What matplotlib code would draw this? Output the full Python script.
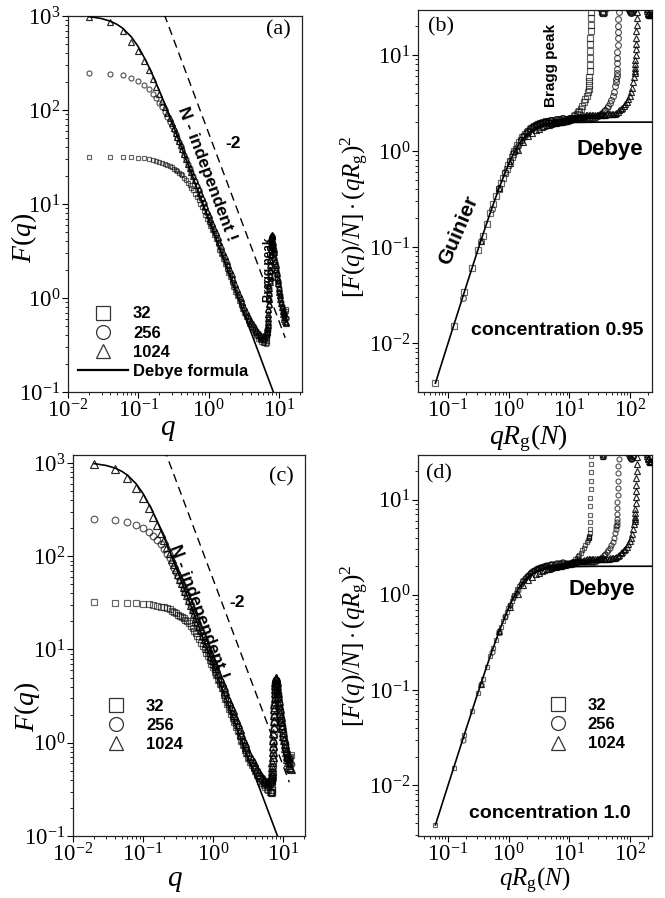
import numpy as np
import matplotlib
matplotlib.use("Agg")
import matplotlib.pyplot as plt
from matplotlib.lines import Line2D
from matplotlib.ticker import LogLocator

plt.rcParams['font.family'] = ['Liberation Serif', 'DejaVu Serif']
plt.rcParams['mathtext.fontset'] = 'custom'
plt.rcParams['mathtext.rm'] = 'Liberation Serif'
plt.rcParams['mathtext.it'] = 'Liberation Serif:italic'
plt.rcParams['mathtext.bf'] = 'Liberation Serif:bold'

# ---------------- data ----------------
CHAIN_LENGTHS = [32, 256, 1024]
LEGEND_LABELS = ['32', '256', '1024']
RG_VALUES = [3.09, 8.74, 17.5]          # R_g(N) used for the rescaled panels

# q grid shared by both concentrations (low/intermediate q)
Q_A = [0.02, 0.04, 0.06, 0.08, 0.10, 0.12, 0.14, 0.16, 0.18, 0.20, 0.22, 0.24, 0.26, 0.28, 0.30,
       0.32, 0.34, 0.36, 0.38, 0.40, 0.42, 0.45, 0.48, 0.51, 0.54, 0.57, 0.60,
       0.64, 0.68, 0.72, 0.76, 0.80, 0.85, 0.90, 0.95, 1.0,
       1.06, 1.12, 1.19, 1.26, 1.34, 1.42, 1.5, 1.6, 1.7, 1.8, 1.9, 2.0,
       2.12, 2.25, 2.4, 2.55, 2.7, 2.85, 3.0,
       3.2, 3.4, 3.6, 3.8, 4.0, 4.25, 4.5, 4.75, 5.0]
F32_A = [32.0, 31.8, 31.6, 31.4, 31.0, 30.6, 30.1, 29.5, 28.9, 28.3, 27.6, 26.9, 26.1, 25.3, 24.5,
         23.7, 22.9, 22.3, 21.6, 20.9, 20.1, 19.0, 17.9, 16.9, 15.9, 14.9, 14.0,
         12.9, 11.8, 10.9, 10.05, 9.28, 8.43, 7.67, 7.01, 6.42,
         5.80, 5.27, 4.73, 4.27, 3.82, 3.25, 2.92, 2.58, 2.29, 2.05, 1.85, 1.67,
         1.49, 1.325, 1.17, 1.045, 0.935, 0.845, 0.768,
         0.69, 0.626, 0.574, 0.532, 0.494, 0.454, 0.42, 0.392, 0.368]
F256_A = [250, 244, 233, 218, 201, 183, 165.5, 149, 134, 119.5, 106.5, 94.8, 84.6, 75.4, 67.6,
          60.9, 55.0, 49.8, 45.3, 41.4, 38.0, 33.5, 29.8, 26.7, 24.0, 21.7, 19.7,
          17.4, 15.6, 13.96, 12.6, 11.4, 10.19, 9.1, 8.1, 7.3,
          6.5, 5.84, 5.18, 4.63, 4.1, 3.65, 3.27, 2.87, 2.55, 2.27, 2.04, 1.84,
          1.64, 1.46, 1.285, 1.14, 1.02, 0.915, 0.828,
          0.737, 0.667, 0.61, 0.565, 0.525, 0.482, 0.447, 0.417, 0.394]
F1024_A = [975, 865, 690, 535, 420, 332, 265, 214, 176.5, 147.5, 125, 107.4, 93.3, 81.8, 72.4,
           64.1, 57.2, 51.5, 46.4, 42.1, 38.5, 33.8, 30.0, 26.9, 24.1, 21.8, 19.8,
           17.9, 16.0, 14.4, 13.0, 11.8, 10.5, 9.42, 8.5, 7.72,
           7.0, 6.3, 5.6, 5.0, 4.43, 3.95, 3.55, 3.12, 2.77, 2.47, 2.23, 2.0,
           1.785, 1.585, 1.4, 1.24, 1.11, 0.995, 0.9,
           0.8, 0.724, 0.663, 0.615, 0.57, 0.525, 0.487, 0.455, 0.43]

# q grid of the high-q (Bragg peak) region
Q_B = [5.3, 5.6, 5.9, 6.2, 6.5,
       6.7, 6.8, 6.85, 6.9, 6.95, 7.0, 7.05, 7.1, 7.15, 7.2, 7.25, 7.3, 7.35, 7.4, 7.45, 7.5,
       7.55, 7.6, 7.65, 7.7, 7.75, 7.8, 7.85, 7.9, 7.95, 8.0, 8.1, 8.2, 8.3, 8.4, 8.5,
       8.65, 8.8, 8.95, 9.1, 9.25, 9.4, 9.55, 9.7, 9.9, 10.1, 10.3, 10.5, 10.75, 11.0,
       11.25, 11.5, 11.75, 12.0, 12.3, 12.6, 12.8]
# concentration 0.95
F32_B_095 = [0.355, 0.343, 0.335, 0.33, 0.328,
             0.33, 0.35, 0.38, 0.42, 0.47, 0.54, 0.63, 0.73, 0.85, 0.98, 1.13, 1.3, 1.5, 1.72, 1.96, 2.22,
             2.5, 2.8, 3.1, 3.4, 3.7, 3.95, 4.15, 4.25, 4.25, 4.15, 3.9, 3.6, 3.32, 3.06, 2.84,
             2.55, 2.3, 2.08, 1.9, 1.74, 1.6, 1.48, 1.38, 1.26, 1.16, 1.07, 0.99, 0.89, 0.8,
             0.74, 0.7, 0.67, 0.66, 0.68, 0.72, 0.76]
F256_B_095 = [0.38, 0.366, 0.36, 0.362, 0.375,
              0.39, 0.41, 0.43, 0.46, 0.5, 0.56, 0.63, 0.72, 0.83, 0.96, 1.1, 1.27, 1.47, 1.7, 1.95, 2.22,
              2.52, 2.85, 3.2, 3.55, 3.9, 4.2, 4.42, 4.52, 4.5, 4.4, 4.12, 3.8, 3.5, 3.22, 2.98,
              2.66, 2.4, 2.17, 1.97, 1.8, 1.65, 1.52, 1.41, 1.28, 1.17, 1.07, 0.99, 0.9, 0.82,
              0.76, 0.71, 0.67, 0.64, 0.62, 0.61, 0.61]
F1024_B_095 = [0.41, 0.397, 0.392, 0.397, 0.415,
               0.44, 0.47, 0.49, 0.52, 0.56, 0.61, 0.68, 0.76, 0.86, 0.98, 1.12, 1.29, 1.49, 1.72, 1.98, 2.27,
               2.59, 2.94, 3.3, 3.68, 4.04, 4.36, 4.6, 4.72, 4.7, 4.58, 4.28, 3.95, 3.63, 3.34, 3.08,
               2.75, 2.48, 2.24, 2.03, 1.85, 1.69, 1.55, 1.43, 1.29, 1.17, 1.07, 0.98, 0.88, 0.8,
               0.73, 0.68, 0.63, 0.6, 0.57, 0.55, 0.54]
# concentration 1.0
F32_B_100 = [0.35, 0.335, 0.322, 0.31, 0.3,
             0.293, 0.29, 0.29, 0.295, 0.31, 0.34, 0.39, 0.46, 0.56, 0.68, 0.83, 1.0, 1.2, 1.45, 1.72, 2.02,
             2.35, 2.7, 3.05, 3.4, 3.75, 4.05, 4.3, 4.42, 4.42, 4.32, 4.05, 3.75, 3.45, 3.18, 2.95,
             2.62, 2.36, 2.13, 1.94, 1.77, 1.62, 1.5, 1.39, 1.26, 1.15, 1.06, 0.98, 0.89, 0.81,
             0.75, 0.71, 0.68, 0.67, 0.68, 0.71, 0.74]
F256_B_100 = [0.375, 0.36, 0.35, 0.346, 0.352,
              0.365, 0.38, 0.39, 0.41, 0.44, 0.49, 0.55, 0.63, 0.73, 0.86, 1.01, 1.19, 1.4, 1.64, 1.91, 2.2,
              2.52, 2.87, 3.24, 3.62, 4.0, 4.33, 4.58, 4.7, 4.68, 4.57, 4.27, 3.93, 3.6, 3.3, 3.05,
              2.7, 2.43, 2.19, 1.98, 1.8, 1.65, 1.52, 1.4, 1.27, 1.15, 1.05, 0.97, 0.88, 0.8,
              0.74, 0.69, 0.65, 0.62, 0.6, 0.59, 0.59]
F1024_B_100 = [0.405, 0.39, 0.382, 0.382, 0.393,
               0.41, 0.43, 0.445, 0.465, 0.5, 0.55, 0.62, 0.7, 0.8, 0.93, 1.08, 1.26, 1.47, 1.71, 1.98, 2.28,
               2.62, 2.99, 3.38, 3.78, 4.17, 4.52, 4.78, 4.92, 4.9, 4.77, 4.45, 4.1, 3.76, 3.45, 3.18,
               2.82, 2.53, 2.28, 2.06, 1.87, 1.7, 1.56, 1.43, 1.29, 1.17, 1.06, 0.97, 0.87, 0.79,
               0.72, 0.67, 0.62, 0.58, 0.55, 0.53, 0.52]

# Debye formula curve (N = 1024) in panels (a), (c)
Q_DEBYE = [0.02, 0.03, 0.04, 0.05, 0.06, 0.08, 0.1, 0.13, 0.16, 0.2, 0.25, 0.3, 0.4, 0.5, 0.7,
           1.0, 1.5, 2.0, 3.0, 5.0, 9.0]
F_DEBYE = [985, 939, 881, 813, 740, 597, 471, 329, 235, 159, 105, 74.2, 42.5, 27.4, 14.07,
           6.92, 3.08, 1.734, 0.771, 0.278, 0.0857]
# Debye curve in Kratky-like scaling, panels (b), (d)
X_DEBYE = [0.062, 0.1, 0.2, 0.3, 0.4, 0.5, 0.7, 1.0, 1.25, 1.5, 2.0, 2.5, 3.0, 4.0, 5.0, 7.0,
           10, 30, 300]
Y_DEBYE = [0.00383, 0.00997, 0.0395, 0.0874, 0.1518, 0.2304, 0.4188, 0.7358, 0.9883, 1.2048,
           1.509, 1.6806, 1.778, 1.875, 1.92, 1.959, 1.98, 1.998, 2.0]
# slope -2 guide line
Q_SLOPE = [0.2, 12.3]
F_SLOPE = [1425, 0.377]

# ---------------- styles ----------------
MARKERS = ['s', 'o', '^']
EDGES = [(0, 0, 0, 0.6), (0, 0, 0, 0.66), (0, 0, 0, 0.85)]
SANS_B = dict(family='Liberation Sans', weight='bold')

fig = plt.figure(figsize=(6.65, 8.98), dpi=100)
W, H = 665.0, 898.0


def axes_px(left, top, right, bottom):
    return fig.add_axes([left / W, 1 - bottom / H, (right - left) / W, (bottom - top) / H])


ax_a = axes_px(68, 16, 302, 392)
ax_b = axes_px(418, 10, 652, 392)
ax_c = axes_px(73, 455, 305, 836)
ax_d = axes_px(418, 455, 652, 836)

q_all = np.array(Q_A + Q_B)
data_095 = [np.array(F32_A + F32_B_095), np.array(F256_A + F256_B_095), np.array(F1024_A + F1024_B_095)]
data_100 = [np.array(F32_A + F32_B_100), np.array(F256_A + F256_B_100), np.array(F1024_A + F1024_B_100)]


def style_axes(ax):
    ax.set_xscale('log')
    ax.set_yscale('log')
    ax.xaxis.set_major_locator(LogLocator(base=10, numticks=20))
    ax.yaxis.set_major_locator(LogLocator(base=10, numticks=20))
    ax.xaxis.set_minor_locator(LogLocator(base=10, subs=np.arange(2, 10), numticks=20))
    ax.yaxis.set_minor_locator(LogLocator(base=10, subs=np.arange(2, 10), numticks=20))
    ax.tick_params(which='major', direction='out', length=4, width=0.8, labelsize=16.5, pad=1.5,
                   top=False, right=False)
    ax.tick_params(which='minor', direction='out', length=2.2, width=0.6, top=False, right=False)
    for s in ax.spines.values():
        s.set_linewidth(0.9)
        s.set_color('#222222')


def raw_panel(ax, data, msizes, xlim, ylim):
    style_axes(ax)
    for k in range(3):
        ax.plot(q_all, data[k], ls='none', marker=MARKERS[k], mfc='none', mec=EDGES[k],
                ms=msizes[k], mew=0.85, zorder=2 + k)
    ax.plot(Q_DEBYE, F_DEBYE, color='black', lw=1.2, zorder=6)
    ax.plot(Q_SLOPE, F_SLOPE, color='black', lw=1.0, ls=(0, (6, 3.8)), zorder=6)
    ax.set_xlim(*xlim)
    ax.set_ylim(*ylim)


def scaled_panel(ax, data, msizes, xlim, ylim):
    style_axes(ax)
    for k in range(3):
        x = q_all * RG_VALUES[k]
        y = data[k] / CHAIN_LENGTHS[k] * x ** 2
        ax.plot(x, y, ls='none', marker=MARKERS[k], mfc='none', mec=EDGES[k],
                ms=msizes[k], mew=0.85, zorder=2 + k)
    ax.plot(X_DEBYE, Y_DEBYE, color='black', lw=1.2, zorder=6)
    ax.set_xlim(*xlim)
    ax.set_ylim(*ylim)


raw_panel(ax_a, data_095, [3.2, 3.6, 4.5], (0.01, 21.3), (0.1, 1000))
raw_panel(ax_c, data_100, [4.3, 4.8, 5.2], (0.01, 20.6), (0.1, 1218))
scaled_panel(ax_b, data_095, [4.2, 4.2, 4.8], (0.032, 230), (0.0031, 29.4))
scaled_panel(ax_d, data_100, [3.3, 3.6, 4.2], (0.032, 230), (0.00293, 29.5))

# axis labels
ax_a.set_xlabel(r'$q$', fontsize=21, va='center')
ax_a.set_ylabel(r'$F(q)$', fontsize=20, va='center')
ax_a.xaxis.set_label_coords(0.427, -0.10)
ax_a.yaxis.set_label_coords(-0.19, 0.41)

ax_c.set_xlabel(r'$q$', fontsize=21, va='bottom')
ax_c.set_ylabel(r'$F(q)$', fontsize=20, va='center')
ax_c.xaxis.set_label_coords((73 + 0.44 * 232) / W, 4.0 / H, transform=fig.transFigure)
ax_c.yaxis.set_label_coords(-0.2, 0.34)

ax_b.set_xlabel(r'$qR_{\rm g}(N)$', fontsize=20, va='top')
ax_b.set_ylabel(r'$[F(q)/N]\cdot(qR_{\rm g})^2$', fontsize=18, va='center')
ax_b.xaxis.set_label_coords(0.47, -0.080)
ax_b.yaxis.set_label_coords(-0.268, 0.458)

ax_d.set_xlabel(r'$qR_{\rm g}(N)$', fontsize=18, va='bottom')
ax_d.set_ylabel(r'$[F(q)/N]\cdot(qR_{\rm g})^2$', fontsize=18, va='center')
ax_d.xaxis.set_label_coords((418 + 0.50 * 234) / W, 2.0 / H, transform=fig.transFigure)
ax_d.yaxis.set_label_coords(-0.268, 0.50)

# panel letters
ax_a.text(0.897, 0.963, '(a)', transform=ax_a.transAxes, fontsize=16, ha='center', va='center')
ax_b.text(0.097, 0.956, '(b)', transform=ax_b.transAxes, fontsize=16, ha='center', va='center')
ax_c.text(0.90, 0.942, '(c)', transform=ax_c.transAxes, fontsize=16, ha='center', va='center')
ax_d.text(0.09, 0.950, '(d)', transform=ax_d.transAxes, fontsize=16, ha='center', va='center')

# annotations
for ax, pos_ind, pos_m2 in [(ax_a, (0.594, 0.580), (0.705, 0.662)),
                            (ax_c, (0.543, 0.589), (0.708, 0.614))]:
    ax.text(*pos_ind, 'N - independent !', transform=ax.transAxes, rotation=-69.5,
            rotation_mode='anchor', ha='center', va='center', fontsize=12.5, **SANS_B)
    ax.text(*pos_m2, '-2', transform=ax.transAxes, ha='center', va='center', fontsize=12.5, **SANS_B)
ax_a.text(0.859, 0.324, 'Bragg peak', transform=ax_a.transAxes, rotation=90, ha='center',
          va='center', fontsize=8.5, **SANS_B)
ax_b.text(0.568, 0.856, 'Bragg peak', transform=ax_b.transAxes, rotation=90, ha='center',
          va='center', fontsize=11, **SANS_B)
ax_b.text(0.82, 0.634, 'Debye', transform=ax_b.transAxes, ha='center', va='center', fontsize=16, **SANS_B)
ax_d.text(0.785, 0.646, 'Debye', transform=ax_d.transAxes, ha='center', va='center', fontsize=16, **SANS_B)
ax_b.text(0.172, 0.424, 'Guinier', transform=ax_b.transAxes, rotation=66.8, rotation_mode='anchor',
          ha='center', va='center', fontsize=15, **SANS_B)
ax_b.text(0.593, 0.162, 'concentration 0.95', transform=ax_b.transAxes, ha='center', va='center',
          fontsize=14, **SANS_B)
ax_d.text(0.564, 0.058, 'concentration 1.0', transform=ax_d.transAxes, ha='center', va='center',
          fontsize=14, **SANS_B)


# legends
def marker_handles():
    return [Line2D([], [], ls='none', marker=MARKERS[k], mfc='none', mec='#333333', ms=10, mew=0.9)
            for k in range(3)]


leg_prop = dict(family='Liberation Sans', weight='bold', size=12)
h_a = marker_handles() + [Line2D([], [], color='black', lw=1.6)]
ax_a.legend(h_a, LEGEND_LABELS + ['Debye formula'], loc='lower left', bbox_to_anchor=(0.043, 0.035),
            frameon=False, prop=leg_prop, handlelength=3.0, handletextpad=0.3, labelspacing=0.25,
            borderpad=0, borderaxespad=0)
ax_c.legend(marker_handles(), LEGEND_LABELS, loc='lower left', bbox_to_anchor=(0.078, 0.22),
            frameon=False, prop=leg_prop, handlelength=3.0, handletextpad=0.3, labelspacing=0.25,
            borderpad=0, borderaxespad=0)
ax_d.legend(marker_handles(), LEGEND_LABELS, loc='lower left', bbox_to_anchor=(0.49, 0.222),
            frameon=False, prop=leg_prop, handlelength=3.0, handletextpad=0.3, labelspacing=0.25,
            borderpad=0, borderaxespad=0)

fig.savefig('out.png', dpi=100)
